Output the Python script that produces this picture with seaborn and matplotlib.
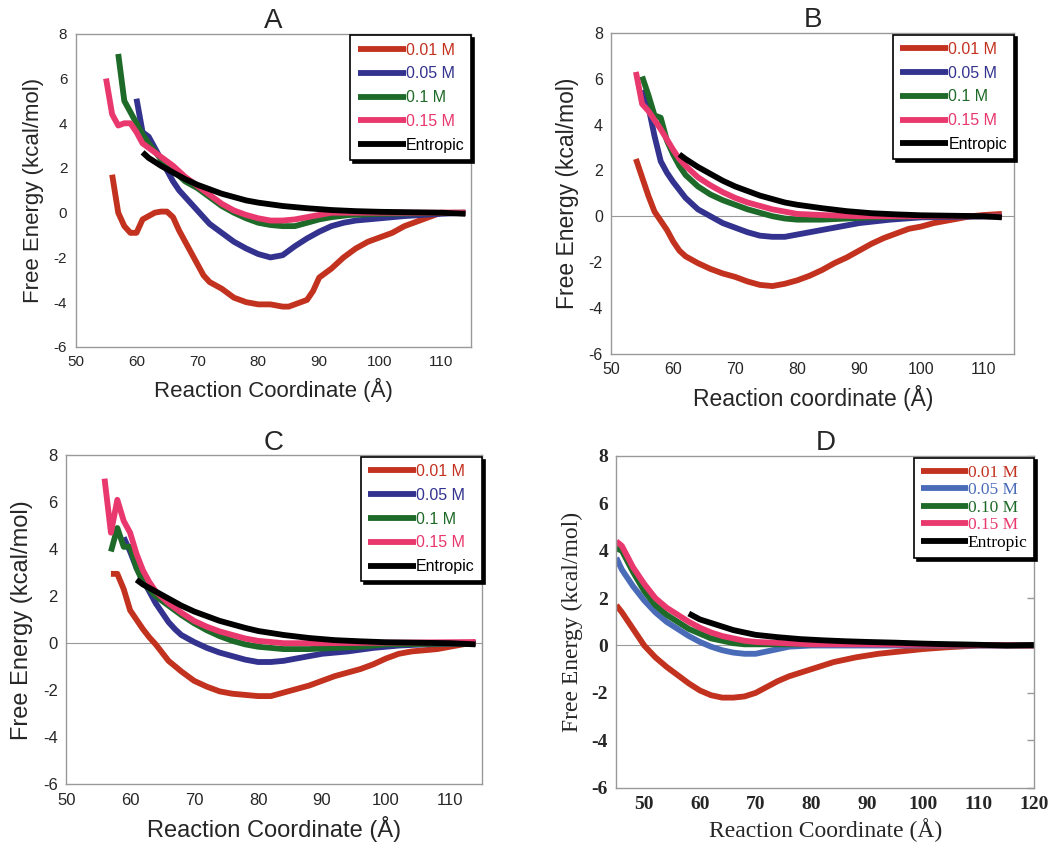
import pandas as pd
import seaborn as sns
import matplotlib.pyplot as plt

sns.set_theme(style='white')
plt.rcParams['font.family'] = ['Liberation Sans', 'DejaVu Sans']
plt.rcParams['axes.unicode_minus'] = False

labels_abc = ['0.01 M', '0.05 M', '0.1 M', '0.15 M', 'Entropic']
labels_d = ['0.01 M', '0.05 M', '0.10 M', '0.15 M', 'Entropic']
colors_abc = ['#C3311F', '#33338F', '#1E6A28', '#E8386E', '#000000']
colors_d = ['#C3311F', '#4A6CB8', '#1E6A28', '#E8386E', '#000000']

# Panel A
a_red_x = [56, 57, 58, 59, 60, 61, 62, 63, 64, 65, 66, 67, 68, 69, 70, 71, 72, 74, 76, 78, 80, 82, 84, 85, 86, 88, 89, 90, 92, 94, 96, 98, 100, 102, 104, 106, 108, 110, 114]
a_red_y = [1.7, 0.0, -0.6, -0.9, -0.9, -0.3, -0.15, 0.0, 0.05, 0.05, -0.2, -0.8, -1.3, -1.8, -2.3, -2.8, -3.1, -3.4, -3.8, -4.0, -4.1, -4.1, -4.2, -4.2, -4.1, -3.9, -3.5, -2.9, -2.5, -2.0, -1.6, -1.3, -1.1, -0.9, -0.6, -0.4, -0.2, 0.0, 0.0]
a_blue_x = [60, 61, 62, 63, 64, 65, 66, 67, 68, 69, 70, 72, 74, 76, 78, 80, 82, 84, 86, 88, 90, 92, 94, 96, 100, 104, 110, 114]
a_blue_y = [5.1, 3.6, 3.4, 2.9, 2.4, 1.9, 1.4, 1.0, 0.7, 0.4, 0.1, -0.5, -0.9, -1.3, -1.6, -1.85, -2.0, -1.9, -1.5, -1.15, -0.85, -0.6, -0.45, -0.35, -0.25, -0.15, -0.05, 0.0]
a_green_x = [57, 58, 59, 60, 61, 62, 64, 66, 68, 70, 72, 74, 76, 78, 80, 82, 84, 86, 88, 90, 92, 95, 100, 114]
a_green_y = [7.1, 5.0, 4.5, 4.0, 3.5, 3.1, 2.4, 1.9, 1.4, 1.1, 0.7, 0.3, 0.0, -0.25, -0.45, -0.55, -0.6, -0.6, -0.45, -0.3, -0.2, -0.1, -0.05, 0.0]
a_pink_x = [55, 56, 57, 58, 59, 60, 61, 62, 64, 66, 68, 70, 72, 74, 76, 78, 80, 82, 84, 86, 88, 90, 92, 95, 114]
a_pink_y = [6.0, 4.4, 3.9, 4.0, 4.0, 3.6, 3.1, 2.9, 2.5, 2.1, 1.6, 1.2, 0.8, 0.4, 0.1, -0.1, -0.25, -0.35, -0.35, -0.3, -0.2, -0.1, 0.0, 0.0, 0.0]
a_black_x = [61, 62, 64, 66, 68, 70, 72, 74, 76, 78, 80, 84, 88, 92, 96, 100, 105, 110, 114]
a_black_y = [2.7, 2.45, 2.1, 1.8, 1.5, 1.25, 1.05, 0.85, 0.7, 0.55, 0.45, 0.3, 0.2, 0.12, 0.07, 0.04, 0.02, 0.0, -0.05]

# Panel B
b_red_x = [54, 55, 56, 57, 58, 59, 60, 61, 62, 64, 66, 68, 70, 72, 74, 76, 78, 80, 82, 84, 86, 88, 90, 92, 94, 96, 98, 100, 102, 104, 106, 108, 110, 113]
b_red_y = [2.5, 1.7, 0.9, 0.2, -0.2, -0.6, -1.1, -1.5, -1.75, -2.05, -2.3, -2.5, -2.65, -2.85, -3.0, -3.05, -2.95, -2.8, -2.6, -2.35, -2.05, -1.8, -1.5, -1.2, -0.95, -0.75, -0.55, -0.45, -0.3, -0.2, -0.1, 0.0, 0.05, 0.1]
b_blue_x = [55, 56, 57, 58, 59, 60, 62, 64, 66, 68, 70, 72, 74, 76, 78, 80, 84, 88, 90, 95, 100, 113]
b_blue_y = [5.5, 4.8, 3.5, 2.4, 1.9, 1.5, 0.8, 0.3, 0.0, -0.3, -0.5, -0.7, -0.85, -0.9, -0.9, -0.8, -0.6, -0.4, -0.3, -0.15, -0.05, 0.0]
b_green_x = [55, 56, 57, 58, 59, 60, 61, 62, 64, 66, 68, 70, 72, 74, 76, 78, 80, 84, 88, 92, 100, 113]
b_green_y = [6.1, 5.3, 4.4, 4.3, 3.3, 2.7, 2.2, 1.8, 1.3, 0.95, 0.7, 0.5, 0.3, 0.15, 0.0, -0.1, -0.15, -0.15, -0.1, -0.05, 0.0, 0.0]
b_pink_x = [54, 55, 56, 58, 60, 61, 62, 64, 66, 68, 70, 72, 74, 76, 78, 80, 84, 90, 113]
b_pink_y = [6.3, 4.9, 4.6, 3.8, 2.9, 2.5, 2.2, 1.7, 1.35, 1.05, 0.8, 0.6, 0.45, 0.3, 0.2, 0.1, 0.05, 0.0, 0.0]
b_black_x = [61, 62, 64, 66, 68, 70, 72, 74, 76, 78, 80, 84, 88, 92, 96, 100, 105, 110, 113]
b_black_y = [2.7, 2.5, 2.15, 1.85, 1.55, 1.3, 1.1, 0.9, 0.75, 0.6, 0.5, 0.35, 0.22, 0.13, 0.08, 0.04, 0.02, 0.0, -0.05]

# Panel C
c_red_x = [57, 58, 59, 60, 61, 62, 63, 64, 65, 66, 68, 70, 72, 74, 76, 78, 80, 82, 84, 86, 88, 90, 92, 94, 96, 98, 100, 102, 104, 106, 108, 110, 112, 114]
c_red_y = [2.95, 2.95, 2.3, 1.4, 1.0, 0.6, 0.25, -0.05, -0.4, -0.75, -1.2, -1.6, -1.85, -2.05, -2.15, -2.2, -2.25, -2.25, -2.1, -1.95, -1.8, -1.6, -1.4, -1.25, -1.1, -0.9, -0.65, -0.45, -0.35, -0.3, -0.25, -0.15, -0.05, 0.05]
c_blue_x = [59, 60, 61, 62, 63, 64, 65, 66, 67, 68, 70, 72, 74, 76, 78, 80, 82, 84, 86, 88, 90, 94, 98, 102, 106, 114]
c_blue_y = [4.5, 3.9, 3.2, 2.7, 2.2, 1.7, 1.3, 0.9, 0.6, 0.35, 0.05, -0.2, -0.4, -0.55, -0.7, -0.8, -0.8, -0.75, -0.65, -0.55, -0.45, -0.35, -0.2, -0.1, -0.05, 0.0]
c_green_x = [57, 58, 59, 60, 61, 62, 64, 66, 68, 70, 72, 74, 76, 78, 80, 84, 88, 92, 96, 100, 114]
c_green_y = [3.9, 4.9, 4.1, 4.1, 3.2, 2.6, 2.0, 1.6, 1.2, 0.85, 0.55, 0.3, 0.1, -0.05, -0.15, -0.25, -0.25, -0.2, -0.15, -0.05, 0.0]
c_pink_x = [56, 57, 58, 59, 60, 61, 62, 63, 64, 66, 68, 70, 72, 74, 76, 78, 80, 84, 90, 114]
c_pink_y = [7.0, 4.7, 6.1, 5.2, 4.7, 3.8, 3.1, 2.6, 2.2, 1.7, 1.3, 0.95, 0.7, 0.5, 0.35, 0.2, 0.1, 0.0, 0.0, 0.05]
c_black_x = [61, 62, 64, 66, 68, 70, 72, 74, 76, 78, 80, 84, 88, 92, 96, 100, 105, 110, 114]
c_black_y = [2.7, 2.5, 2.2, 1.9, 1.6, 1.35, 1.15, 0.95, 0.8, 0.65, 0.52, 0.35, 0.22, 0.13, 0.08, 0.04, 0.02, 0.0, -0.05]

# Panel D
d_red_x = [45, 46, 48, 50, 52, 54, 56, 58, 60, 62, 64, 66, 68, 70, 72, 74, 76, 78, 80, 84, 88, 92, 96, 100, 104, 110, 120]
d_red_y = [1.7, 1.4, 0.7, 0.0, -0.5, -0.9, -1.25, -1.6, -1.9, -2.1, -2.2, -2.2, -2.15, -2.0, -1.75, -1.5, -1.3, -1.15, -1.0, -0.7, -0.5, -0.35, -0.25, -0.15, -0.08, 0.0, 0.0]
d_blue_x = [45, 46, 48, 50, 52, 54, 56, 58, 60, 62, 64, 66, 68, 70, 72, 74, 76, 80, 120]
d_blue_y = [3.7, 3.2, 2.5, 1.9, 1.4, 1.0, 0.7, 0.4, 0.15, -0.05, -0.2, -0.3, -0.35, -0.35, -0.25, -0.15, -0.05, 0.0, 0.0]
d_green_x = [45, 46, 48, 50, 52, 54, 56, 58, 60, 62, 64, 66, 68, 70, 80, 90, 100, 120]
d_green_y = [4.1, 4.0, 3.1, 2.3, 1.7, 1.3, 1.0, 0.7, 0.5, 0.3, 0.2, 0.1, 0.05, 0.05, 0.05, 0.1, 0.05, 0.0]
d_pink_x = [45, 46, 48, 50, 52, 54, 56, 58, 60, 62, 64, 66, 68, 70, 75, 80, 90, 120]
d_pink_y = [4.4, 4.2, 3.3, 2.6, 2.0, 1.6, 1.3, 1.0, 0.75, 0.55, 0.4, 0.3, 0.2, 0.15, 0.1, 0.05, 0.05, 0.0]
d_black_x = [58, 60, 62, 64, 66, 68, 70, 74, 78, 82, 86, 90, 95, 100, 105, 110, 115, 120]
d_black_y = [1.35, 1.1, 0.95, 0.8, 0.65, 0.55, 0.45, 0.35, 0.27, 0.22, 0.18, 0.15, 0.12, 0.08, 0.05, 0.03, 0.0, 0.02]

# title, x label, axes rect, xlim, xticks, labels, colours, series, zero line, label size, tick size
panels = [
    ('A', 'Reaction Coordinate (Å)', [0.072, 0.590, 0.377, 0.370], (50, 115), range(50, 111, 10), labels_abc, colors_abc,
     [(a_red_x, a_red_y), (a_blue_x, a_blue_y), (a_green_x, a_green_y), (a_pink_x, a_pink_y), (a_black_x, a_black_y)], False, 16, 11),
    ('B', 'Reaction coordinate (Å)', [0.582, 0.582, 0.384, 0.379], (50, 115), range(50, 111, 10), labels_abc, colors_abc,
     [(b_red_x, b_red_y), (b_blue_x, b_blue_y), (b_green_x, b_green_y), (b_pink_x, b_pink_y), (b_black_x, b_black_y)], True, 16.5, 11.5),
    ('C', 'Reaction Coordinate (Å)', [0.063, 0.073, 0.396, 0.389], (50, 115), range(50, 111, 10), labels_abc, colors_abc,
     [(c_red_x, c_red_y), (c_blue_x, c_blue_y), (c_green_x, c_green_y), (c_pink_x, c_pink_y), (c_black_x, c_black_y)], True, 17, 12),
    ('D', 'Reaction Coordinate (Å)', [0.587, 0.069, 0.398, 0.392], (45, 120), range(50, 121, 10), labels_d, colors_d,
     [(d_red_x, d_red_y), (d_blue_x, d_blue_y), (d_green_x, d_green_y), (d_pink_x, d_pink_y), (d_black_x, d_black_y)], True, 17, 14),
]

fig = plt.figure(figsize=(10.5, 8.46), dpi=100)

for title, xlabel, rect, xlim, xticks, labels, colors, series, zero_line, lab_size, tick_size in panels:
    ax = fig.add_axes(rect)
    serif = title == 'D'
    if zero_line:
        ax.axhline(0, color='#999999', lw=0.8, zorder=0)
    for (xs, ys), lab, col in zip(series, labels, colors):
        df = pd.DataFrame({'x': xs, 'y': ys})
        sns.lineplot(data=df, x='x', y='y', ax=ax, color=col, lw=4.2, label=lab,
                     solid_capstyle='butt', solid_joinstyle='round')
    ax.set_xlim(*xlim)
    ax.set_ylim(-6, 8)
    ax.set_xticks(list(xticks))
    ax.set_yticks(range(-6, 9, 2))
    for s in ax.spines.values():
        s.set_color('#999999')
        s.set_linewidth(1.0)
    ax.tick_params(direction='in', length=5, color='#999999', width=1.0,
                   labelsize=tick_size, pad=6, right=serif)
    ax.set_title(title, fontsize=20, pad=4)
    if serif:
        for t in ax.get_xticklabels() + ax.get_yticklabels():
            t.set_fontfamily('Liberation Serif')
            t.set_fontweight('bold')
        ax.set_xlabel(xlabel, fontsize=lab_size, family='Liberation Serif', labelpad=4)
        ax.set_ylabel('Free Energy (kcal/mol)', fontsize=lab_size, family='Liberation Serif', labelpad=6)
        leg_kw = dict(prop={'family': 'Liberation Serif', 'size': 12.5}, labelspacing=0.08,
                      handlelength=2.7, borderpad=0.4)
    else:
        ax.set_xlabel(xlabel, fontsize=lab_size, labelpad=6)
        ax.set_ylabel('Free Energy (kcal/mol)', fontsize=lab_size, labelpad=7)
        leg_kw = dict(prop={'size': 11.5}, labelspacing=0.55, handlelength=3.0, borderpad=0.45)
    leg = ax.legend(loc='upper right', bbox_to_anchor=(1.0, 0.995), borderaxespad=0, frameon=True,
                    fancybox=False, shadow={'color': 'black', 'alpha': 1.0}, edgecolor='black',
                    handletextpad=0.0, **leg_kw)
    leg.get_frame().set_linewidth(1.2)
    for line in leg.get_lines():
        line.set_linewidth(4.2)
    for text, col in zip(leg.get_texts(), colors):
        text.set_color(col)

fig.savefig('out.png', dpi=100)
